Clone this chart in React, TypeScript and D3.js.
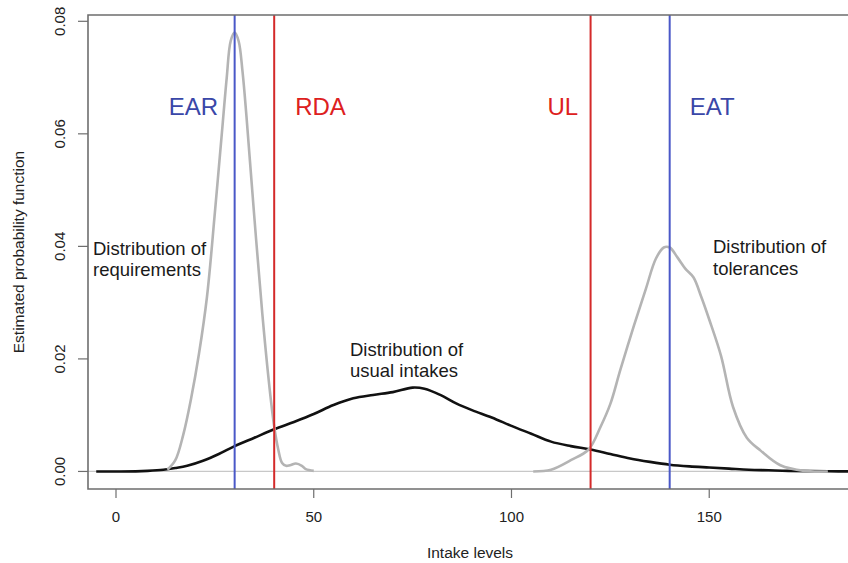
import React from "react";
import * as d3 from "d3";

// Distribution of requirements (gray, left)
const reqX = [13, 15, 17, 19, 21, 23, 25, 27, 28, 29, 30, 31, 32, 33, 35, 37, 38.8, 40, 41, 42, 43, 44, 45.5, 47, 48, 50];
const reqY = [0.0003, 0.002, 0.0065, 0.013, 0.021, 0.031, 0.046, 0.062, 0.07, 0.0765, 0.078, 0.0765, 0.071, 0.063, 0.045, 0.028, 0.015, 0.008, 0.004, 0.0015, 0.001, 0.0011, 0.0014, 0.001, 0.0004, 0.0001];

// Distribution of usual intakes (black)
const intX = [-5, 0, 5, 8, 12, 15, 18, 22, 26, 30, 35, 40, 45, 50, 55, 60, 65, 70, 75, 78, 82, 86, 90, 95, 100, 105, 110, 115, 120, 125, 130, 135, 140, 145, 150, 155, 160, 165, 170, 180, 187];
const intY = [0, 0, 0.00002, 0.0001, 0.0003, 0.0006, 0.001, 0.0019, 0.0031, 0.0045, 0.006, 0.0075, 0.0088, 0.0102, 0.0118, 0.013, 0.0136, 0.0141, 0.0149, 0.0147, 0.0136, 0.0121, 0.0109, 0.0096, 0.0081, 0.0067, 0.0053, 0.0045, 0.0039, 0.0031, 0.0023, 0.0017, 0.0012, 0.0009, 0.0007, 0.0005, 0.0003, 0.0002, 0.0001, 0.00003, 0];

// Distribution of tolerances (gray, right)
const tolX = [105.5, 110, 115, 119.5, 122.5, 125, 127.5, 131, 134, 136.5, 138.5, 140, 142, 144, 146, 148, 150, 153, 156, 159.5, 163, 168, 174, 180];
const tolY = [0, 0.0003, 0.002, 0.0039, 0.0079, 0.012, 0.018, 0.026, 0.0325, 0.0378, 0.0398, 0.0398, 0.038, 0.036, 0.0345, 0.031, 0.027, 0.0205, 0.0115, 0.006, 0.0037, 0.0011, 0.0001, 0];

// Reference lines
const refNames = ["EAR", "RDA", "UL", "EAT"];
const refValues = [30, 40, 120, 140];
const refKinds = ["blue", "red", "red", "blue"];

const xTicks = [0, 50, 100, 150];
const yTicks = [0, 0.02, 0.04, 0.06, 0.08];

const W = 848;
const H = 563;
const L = 88, R = 852, T = 15, B = 489;

export default function App() {
  const x = d3.scaleLinear().domain([-7.08, 186.1]).range([L, R]);
  const y = d3.scaleLinear().domain([-0.00312, 0.08112]).range([B, T]);
  const line = d3
    .line<[number, number]>()
    .x((d) => x(d[0]))
    .y((d) => y(d[1]))
    .curve(d3.curveCatmullRom.alpha(0.5));
  const zip = (a: number[], b: number[]) => a.map((v, i) => [v, b[i]] as [number, number]);

  const font = "'Liberation Sans', Arial, Helvetica, sans-serif";
  const lineColor: Record<string, string> = { blue: "#4a58c8", red: "#d42a2a" };
  const textColor: Record<string, string> = { blue: "#3a47a8", red: "#dd2020" };
  const labelPos: Record<string, { dx: number; anchor: string }> = {
    EAR: { dx: -16.5, anchor: "end" },
    RDA: { dx: 21, anchor: "start" },
    UL: { dx: -12.5, anchor: "end" },
    EAT: { dx: 20, anchor: "start" },
  };
  const axisColor = "#6e6e6e";

  return (
    <svg width={W} height={H} style={{ position: "absolute", left: 0, top: 0, background: "#fff" }} fontFamily={font}>
      <rect x={0} y={0} width={W} height={H} fill="#fff" />
      <defs>
        <clipPath id="plot">
          <rect x={L} y={T} width={R - L} height={B - T} />
        </clipPath>
      </defs>
      {/* baseline at 0 */}
      <line x1={L} x2={R} y1={y(0)} y2={y(0)} stroke="#c8c8c8" strokeWidth={1.2} />
      <g clipPath="url(#plot)">
        <path d={line(zip(intX, intY)) || ""} fill="none" stroke="#111" strokeWidth={2.6} />
        <path d={line(zip(reqX, reqY)) || ""} fill="none" stroke="#b4b4b4" strokeWidth={2.6} />
        <path d={line(zip(tolX, tolY)) || ""} fill="none" stroke="#b4b4b4" strokeWidth={2.6} />
        {refValues.map((v, i) => (
          <line key={i} x1={x(v)} x2={x(v)} y1={T} y2={B} stroke={lineColor[refKinds[i]]} strokeWidth={2} />
        ))}
      </g>
      {refValues.map((v, i) => (
        <text
          key={"t" + i}
          x={x(v) + labelPos[refNames[i]].dx}
          y={114.5}
          fontSize={24}
          fill={textColor[refKinds[i]]}
          textAnchor={labelPos[refNames[i]].anchor as any}
        >
          {refNames[i]}
        </text>
      ))}
      {/* annotations */}
      <g fontSize={18.5} fill="#1a1a1a">
        <text x={93} y={255}>Distribution of</text>
        <text x={93} y={275.5}>requirements</text>
        <text x={350} y={356}>Distribution of</text>
        <text x={350} y={377}>usual intakes</text>
        <text x={713} y={253}>Distribution of</text>
        <text x={713} y={275}>tolerances</text>
      </g>
      {/* box */}
      <path d={`M${R},${T}H${L}V${B}H${R}`} fill="none" stroke={axisColor} strokeWidth={1.6} />
      {/* y axis ticks */}
      {yTicks.map((t) => (
        <g key={"y" + t}>
          <line x1={L - 10} x2={L} y1={y(t)} y2={y(t)} stroke={axisColor} strokeWidth={1.2} />
          <text
            transform={`translate(65,${y(t)}) rotate(-90)`}
            textAnchor="middle"
            fontSize={15}
            fill="#222"
          >
            {t.toFixed(2)}
          </text>
        </g>
      ))}
      {/* x axis ticks */}
      {xTicks.map((t) => (
        <g key={"x" + t}>
          <line x1={x(t)} x2={x(t)} y1={B} y2={B + 9} stroke={axisColor} strokeWidth={1.2} />
          <text x={x(t)} y={522} textAnchor="middle" fontSize={15} fill="#222">
            {t}
          </text>
        </g>
      ))}
      <text x={470} y={558} textAnchor="middle" fontSize={15.5} fill="#222">
        Intake levels
      </text>
      <text transform={`translate(24,252) rotate(-90)`} textAnchor="middle" fontSize={15.5} fill="#222">
        Estimated probability function
      </text>
    </svg>
  );
}
